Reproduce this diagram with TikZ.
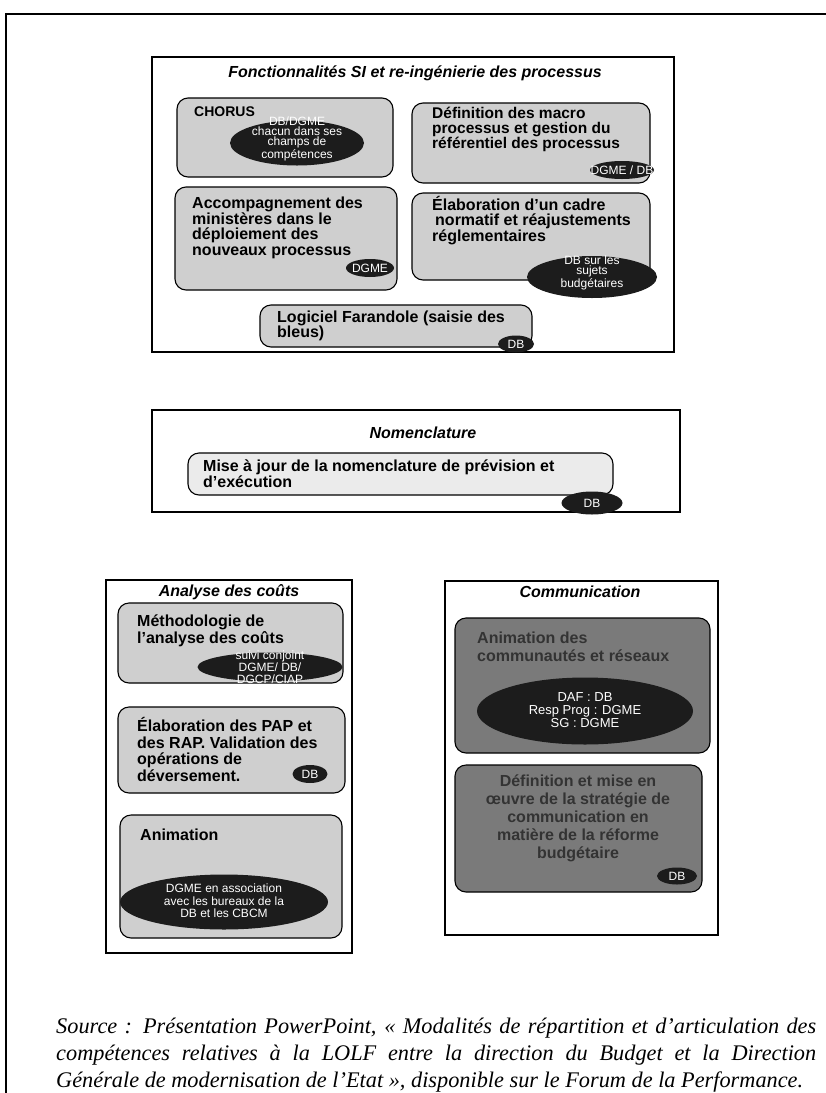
\documentclass[tikz,border=0pt]{standalone}
\usepackage{fontspec}
\setmainfont{Liberation Serif}
\setsansfont{Liberation Sans}
\usetikzlibrary{shapes.geometric,fit}

\definecolor{boxgray}{HTML}{CFCFCF}
\definecolor{nomfill}{HTML}{EBEBEB}
\definecolor{darkbox}{HTML}{7A7A7A}
\definecolor{ovalfill}{HTML}{1C1C1C}

\begin{document}
\begin{tikzpicture}[x=1pt, y=-1pt,
		panel/.style={draw, line width=1.3pt, inner sep=0pt},
		lbox/.style={draw, line width=1.1pt, fill=boxgray, rounded corners=11pt, inner sep=0pt},
		dbox/.style={lbox, fill=darkbox},
		nbox/.style={lbox, fill=nomfill},
		oval/.style={ellipse, fill=ovalfill, inner sep=0pt},
		ptitle/.style={font=\sffamily\bfseries\itshape\fontsize{16}{16}\selectfont, inner sep=0pt},
		btext/.style={font=\sffamily\bfseries\fontsize{16}{#1}\selectfont, align=left, inner sep=0pt, anchor=north west},
		btext/.default=15.5,
		otext/.style={text=white, font=\sffamily\fontsize{12}{#1}\selectfont, align=center, inner sep=0pt},
		otext/.default=12,
	]
		\useasboundingbox (0,0) rectangle (826,1093);
		\draw[line width=1.5pt] (826,14) -- (6,14) -- (6,1093);
		
		% Fonctionnalites SI
		\node (fonc) [panel, fit={(152,57) (674,352)}] {};
		\node (fonctitle) [ptitle] at (415,73) {Fonctionnalités SI et re-ingénierie des processus};
		
		\node (chorus) [lbox, fit={(177,98) (393,177)}] {};
		\node (chorustxt) [btext, font=\sffamily\bfseries\fontsize{14}{14}\selectfont] at (194,107) {CHORUS};
		\node (chorusov) [oval, minimum width=134pt, minimum height=45pt] at (297,143) {};
		\node (chorusovtxt) [otext=10] at (297,139) {DB/DGME\\chacun dans ses\\champs de\\compétences};
		
		\node (macro) [lbox, fit={(412,103) (650,183)}] {};
		\node (macrotxt) [btext=14.5, font=\sffamily\bfseries\fontsize{15.5}{14.5}\selectfont] at (432,107) {Définition des macro\\processus et gestion du\\référentiel des processus};
		\node (macroov) [oval, minimum width=64pt, minimum height=18pt] at (622,170) {};
		\node (macroovtxt) [otext] at (macroov) {DGME / DB};
		
		\node (accomp) [lbox, fit={(175,187) (397,290)}] {};
		\node (accomptxt) [btext] at (192,197) {Accompagnement des\\ministères dans le\\déploiement des\\nouveaux processus};
		\node (accompov) [oval, minimum width=48pt, minimum height=18pt] at (370,268) {};
		\node (accompovtxt) [otext] at (accompov) {DGME};
		
		\node (cadre) [lbox, fit={(412,193) (650,280)}] {};
		\node (cadretxt) [btext=15] at (432,196) {Élaboration d’un cadre\\\hspace*{3pt}normatif et réajustements\\réglementaires};
		\node (cadreov) [oval, minimum width=130pt, minimum height=42pt] at (592,277) {};
		\node (cadreovtxt) [otext=10] at (592,273) {DB sur les\\sujets\\budgétaires};
		
		\node (faran) [lbox, fit={(260,305) (532,347)}] {};
		\node (farantxt) [btext=15] at (277,311) {Logiciel Farandole (saisie des\\bleus)};
		\node (faranov) [oval, minimum width=36pt, minimum height=17pt] at (516,344) {};
		\node (faranovtxt) [otext] at (faranov) {DB};
		
		% Nomenclature
		\node (nomen) [panel, fit={(152,410) (680,512)}] {};
		\node (nomentitle) [ptitle] at (423,433) {Nomenclature};
		\node (maj) [nbox, fit={(188,453) (613,495)}] {};
		\node (majtxt) [btext=12.5] at (203,460) {Mise à jour de la nomenclature de prévision et\\d’exécution};
		\node (majov) [oval, minimum width=61pt, minimum height=23pt] at (592,503) {};
		\node (majovtxt) [otext] at (majov) {DB};
		
		% Analyse des couts
		\node (couts) [panel, fit={(106,580) (352,953)}] {};
		\node (coutstitle) [ptitle] at (229,592) {Analyse des coûts};
		\node (metho) [lbox, fit={(118,603) (343,683)}] {};
		\node (methotxt) [btext=17] at (137,615) {Méthodologie de\\l’analyse des coûts};
		\node (methoov) [oval, minimum width=145pt, minimum height=29pt] at (270,667) {};
		\node (methoovtxt) [otext] at (270,667) {suivi conjoint\\DGME/ DB/\\DGCP/CIAP};
		
		\node (pap) [lbox, fit={(118,707) (345,793)}] {};
		\node (paptxt) [btext=16.7] at (137,717) {Élaboration des PAP et\\des RAP. Validation des\\opérations de\\déversement.};
		\node (papov) [oval, minimum width=35pt, minimum height=18pt] at (310,774) {};
		\node (papovtxt) [otext] at (papov) {DB};
		
		\node (anim) [lbox, fit={(120,815) (342,938)}] {};
		\node (animtxt) [btext] at (140,829) {Animation};
		\node (animov) [oval, minimum width=208pt, minimum height=55pt] at (224,902) {};
		\node (animovtxt) [otext=12.5] at (224,901) {DGME en association\\avec les bureaux de la\\DB et les CBCM};
		
		% Communication
		\node (commu) [panel, fit={(445,581) (718,935)}] {};
		\node (commutitle) [ptitle] at (580,592) {Communication};
		\node (reseau) [dbox, fit={(455,618) (710,753)}] {};
		\node (reseautxt) [btext=18, text=black!80] at (477,632) {Animation des\\communautés et réseaux};
		\node (reseauov) [oval, minimum width=216pt, minimum height=67pt] at (585,711) {};
		\node (reseauovtxt) [otext=13, font=\sffamily\fontsize{13}{13}\selectfont] at (585,710) {DAF : DB\\Resp Prog : DGME\\SG : DGME};
		
		\node (strat) [dbox, fit={(455,765) (702,892)}] {};
		\node (strattxt) [btext=18, align=center, anchor=north, text=black!80] at (578,775) {Définition et mise en\\œuvre de la stratégie de\\communication en\\matière de la réforme\\budgétaire};
		\node (stratov) [oval, minimum width=40pt, minimum height=17pt] at (677,876) {};
		\node (stratovtxt) [otext] at (stratov) {DB};
		
		% source
		\node (source) [anchor=north west, text width=760pt, align=justify, inner sep=0pt, font=\itshape\fontsize{22.3}{27}\selectfont] at (56,1018) {\parfillskip=0pt Source : Présentation PowerPoint, «~Modalités de répartition et d’articulation des\linebreak compétences relatives à la LOLF entre la direction du Budget et la Direction\linebreak Générale de modernisation de l’Etat~», disponible sur le Forum de la Performance.};
	\end{tikzpicture}
\end{document}
